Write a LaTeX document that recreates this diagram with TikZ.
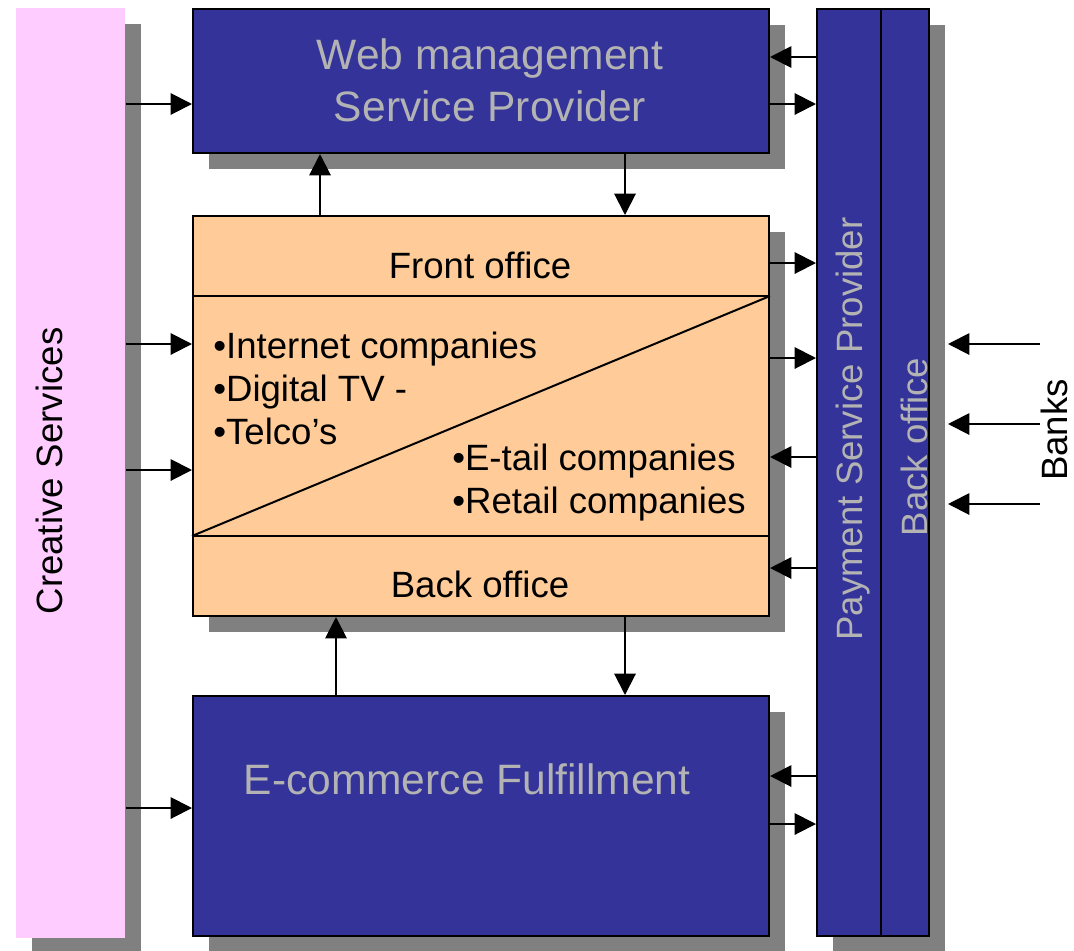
\documentclass[tikz,border=0pt]{standalone}
\usepackage{fontspec}
\setmainfont{Liberation Sans}
\usetikzlibrary{arrows.meta,shadows}
\definecolor{pspblue}{HTML}{333399}
\definecolor{peach}{HTML}{FFCC99}
\definecolor{pinkbar}{HTML}{FFCCFF}
\definecolor{shgray}{HTML}{808080}
\definecolor{txtgray}{HTML}{B3B3B3}
\tikzset{
 sh/.style={drop shadow={shadow xshift=12pt,shadow yshift=-12pt,opacity=1,fill=shgray}},
 box/.style={draw=black,line width=1.5pt,anchor=north west,inner sep=0pt,sh},
 bluebox/.style={box,fill=pspblue},
 arr/.style={line width=1.5pt,-{Triangle[length=16pt,width=16pt]}},
 sep/.style={line width=1.5pt},
 bigtxt/.style={font=\fontsize{31.9pt}{39pt}\selectfont,text=txtgray,inner sep=0pt},
 midtxt/.style={font=\fontsize{27.45pt}{32.25pt}\selectfont,inner sep=0pt},
}
\begin{document}
\begin{tikzpicture}[x=0.75pt,y=-0.75pt]
\useasboundingbox (0,0) rectangle (1074,950);
% boxes
\node[sh,fill=pinkbar,anchor=north west,minimum width=81.75pt,minimum height=697.5pt,inner sep=0pt] (cs) at (16,8) {};
\node[bluebox,minimum width=432pt,minimum height=108pt] (web) at (192,8) {};
\node[box,fill=peach,minimum width=432pt,minimum height=300pt] (main) at (192,215) {};
\node[bluebox,minimum width=432pt,minimum height=180pt] (ecom) at (192,695) {};
\node[bluebox,minimum width=48pt,minimum height=695.25pt] (psp) at (816,8) {};
\node[bluebox,minimum width=36pt,minimum height=695.25pt] (pbo) at (880,8) {};
% inner lines of main box
\coordinate (l1) at (0,296);
\coordinate (l2) at (0,536);
\draw[sep] (main.west |- l1) -- (main.east |- l1);
\draw[sep] (main.west |- l2) -- (main.east |- l2);
\draw[sep] (main.west |- l2) -- (main.east |- l1);
% texts (base anchor of a multi-line node = baseline of its last line)
\node[bigtxt,align=center,anchor=base] (webtxt) at (490,121) {Web management\\Service Provider};
\node[midtxt,anchor=base] (fo) at (480,278) {Front office};
\node[midtxt,anchor=base] (bo) at (480,597) {Back office};
\node[midtxt,align=left,anchor=base west] (lst1) at (213,444) {•Internet companies\\•Digital TV -\\•Telco’s};
\node[midtxt,align=left,anchor=base west] (lst2) at (452,513) {•E-tail companies\\•Retail companies};
\node[bigtxt,anchor=base] (ectxt) at (467,794) {E-commerce Fulfillment};
\node[midtxt,rotate=90,anchor=base] (cstxt) at (62,471) {Creative Services};
\node[midtxt,rotate=90,anchor=base,text=txtgray] (psptxt) at (862,429) {Payment Service Provider};
\node[midtxt,rotate=90,anchor=base,text=txtgray] (pbotxt) at (927,447) {Back office};
\node[midtxt,rotate=90,anchor=base] (banks) at (1067,430) {Banks};
% lanes
\coordinate (h57) at (0,57);
\coordinate (h104) at (0,104);
\coordinate (h263) at (0,263);
\coordinate (h344) at (0,344);
\coordinate (h358) at (0,358);
\coordinate (h424) at (0,424);
\coordinate (h457) at (0,457);
\coordinate (h470) at (0,470);
\coordinate (h504) at (0,504);
\coordinate (h568) at (0,568);
\coordinate (h776) at (0,776);
\coordinate (h808) at (0,808);
\coordinate (h824) at (0,824);
\coordinate (v320) at (320,0);
\coordinate (v336) at (336,0);
\coordinate (v625) at (625,0);
\coordinate (pbosh) at ([xshift=13.5pt]pbo.north east);
% creative services arrows
\draw[arr] (cs.east |- h104) -- (web.west |- h104);
\draw[arr] (cs.east |- h344) -- (main.west |- h344);
\draw[arr] (cs.east |- h470) -- (main.west |- h470);
\draw[arr] (cs.east |- h808) -- (ecom.west |- h808);
% web <-> psp
\draw[arr] (psp.west |- h57) -- (web.east |- h57);
\draw[arr] (web.east |- h104) -- (psp.west |- h104);
% main <-> psp
\draw[arr] (main.east |- h263) -- (psp.west |- h263);
\draw[arr] (main.east |- h358) -- (psp.west |- h358);
\draw[arr] (psp.west |- h457) -- (main.east |- h457);
\draw[arr] (psp.west |- h568) -- (main.east |- h568);
% ecom <-> psp
\draw[arr] (psp.west |- h776) -- (ecom.east |- h776);
\draw[arr] (ecom.east |- h824) -- (psp.west |- h824);
% vertical
\draw[arr] (main.north -| v320) -- (web.south -| v320);
\draw[arr] (web.south -| v625) -- (main.north -| v625);
\draw[arr] (ecom.north -| v336) -- (main.south -| v336);
\draw[arr] (main.south -| v625) -- (ecom.north -| v625);
% banks
\draw[arr] (banks.north |- h344) -- (pbosh |- h344);
\draw[arr] (banks.north |- h424) -- (pbosh |- h424);
\draw[arr] (banks.north |- h504) -- (pbosh |- h504);
\end{tikzpicture}
\end{document}
